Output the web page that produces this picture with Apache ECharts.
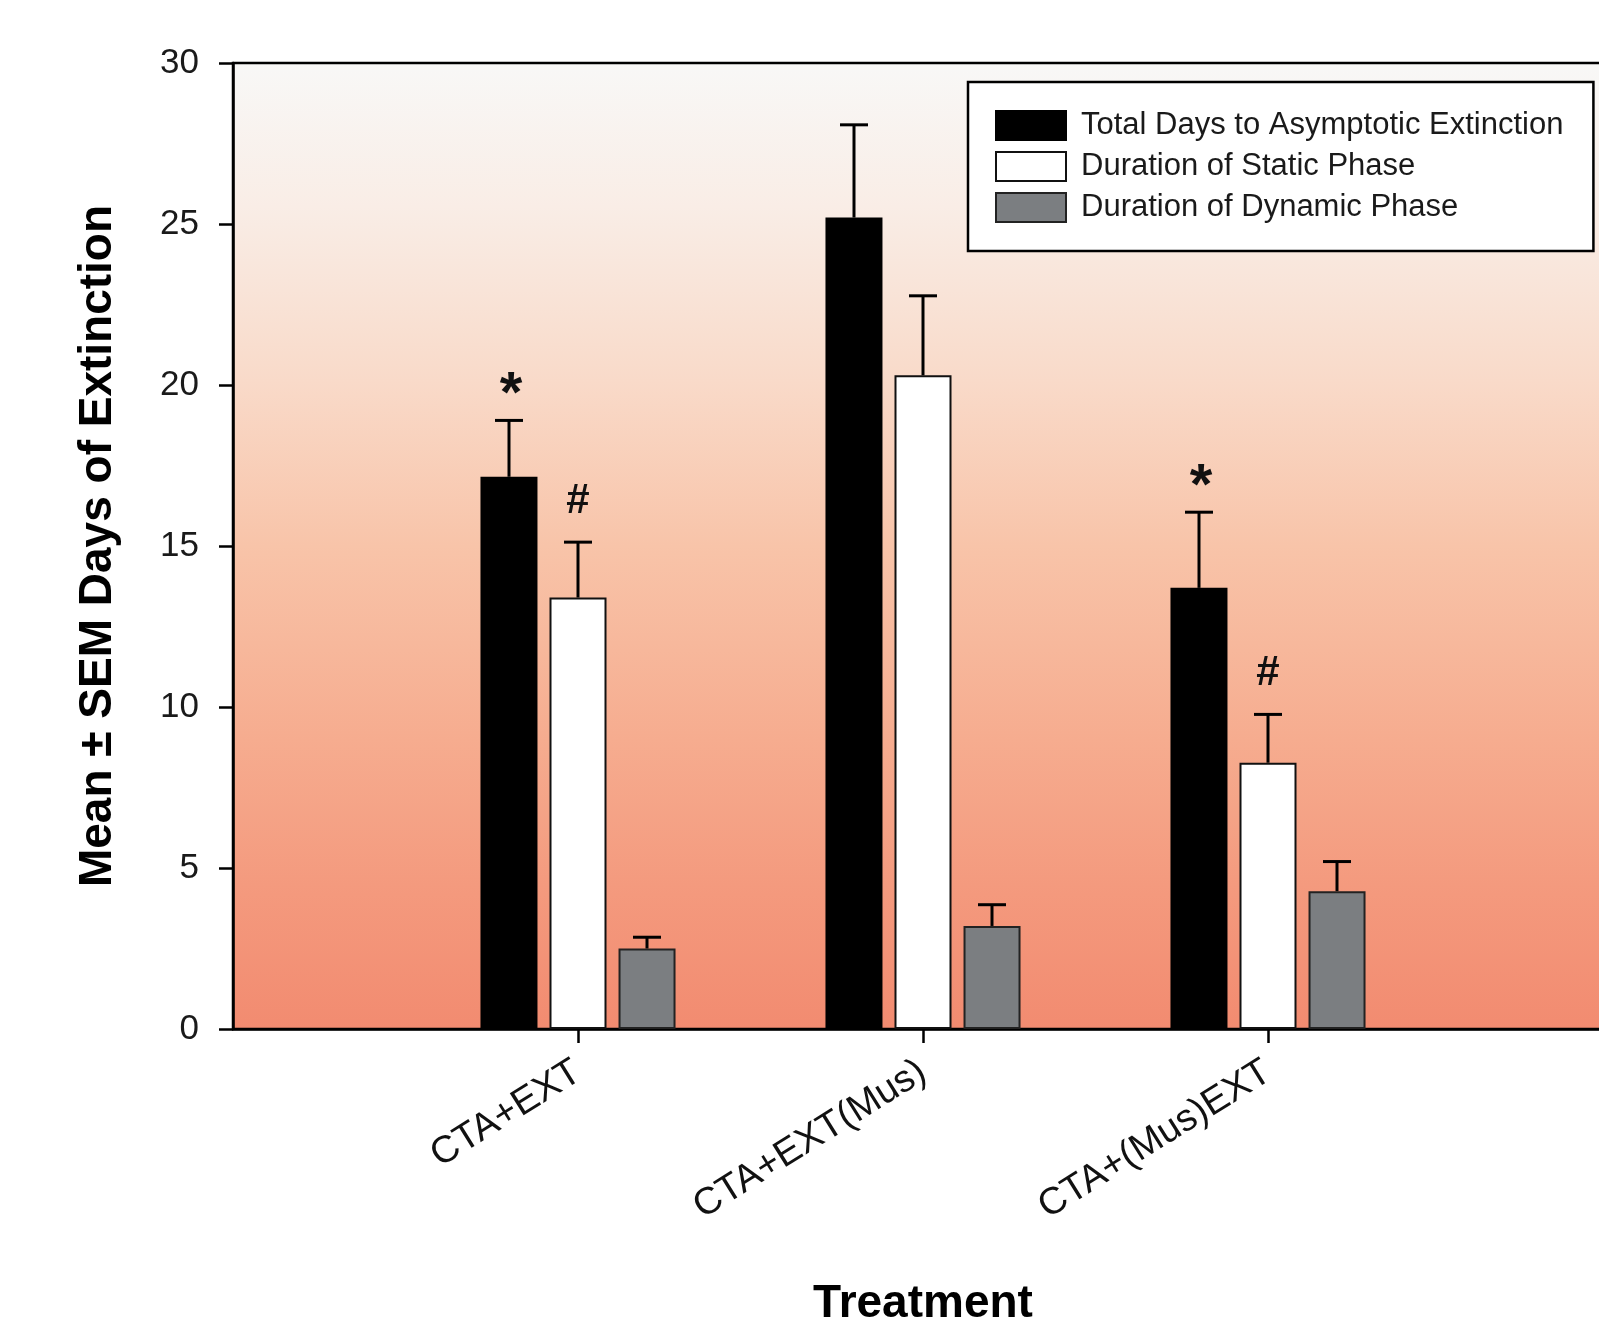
<!DOCTYPE html>
<html>
<head>
<meta charset="utf-8">
<script src="https://cdn.jsdelivr.net/npm/echarts@6/dist/echarts.min.js"></script>
<style>
html,body{margin:0;padding:0;background:#fff;}
#chart{width:1599px;height:1329px;}
</style>
</head>
<body>
<div id="chart"></div>
<script>
// ---- data ----
const categories = ['CTA+EXT', 'CTA+EXT(Mus)', 'CTA+(Mus)EXT'];
const seriesNames = ['Total Days to Asymptotic Extinction', 'Duration of Static Phase', 'Duration of Dynamic Phase'];
const totalMean = [17.15, 25.2, 13.7];
const totalSem = [1.75, 2.88, 2.35];
const staticMean = [13.4, 20.3, 8.27];
const staticSem = [1.72, 2.47, 1.5];
const dynamicMean = [2.5, 3.2, 4.28];
const dynamicSem = [0.35, 0.66, 0.92];
const totalMarks = ['*', '', '*'];
const staticMarks = ['#', '', '#'];
const dynamicMarks = ['', '', ''];
const yMin = 0, yMax = 30, yStep = 5;

// ---- style ----
const FONT = "'Liberation Sans', Arial, sans-serif";
const BAR_W = 57, BAR_GAP = 12;
const colors = ['#000000', '#ffffff', '#7b7e81'];
const borderColors = ['#000000', '#111111', '#222222'];

const means = [totalMean, staticMean, dynamicMean];
const sems = [totalSem, staticSem, dynamicSem];
const marks = [totalMarks, staticMarks, dynamicMarks];

const axisCats = [''].concat(categories, ['']);
const pad = arr => [null].concat(arr, [null]);

const errData = [], errMarks = [];
means.forEach((m, s) => {
  m.forEach((v, i) => {
    errData.push([i + 1, v, sems[s][i], s]);
    errMarks.push(marks[s][i]);
  });
});

const chart = echarts.init(document.getElementById('chart'), null, {renderer: 'canvas'});

const barSeries = seriesNames.map((name, s) => ({
  name: name,
  type: 'bar',
  data: pad(means[s]),
  barWidth: BAR_W,
  barGap: (BAR_GAP / BAR_W * 100).toFixed(1) + '%',
  itemStyle: {color: colors[s], borderColor: borderColors[s], borderWidth: 2},
  emphasis: {disabled: true},
  z: 2
}));

const errSeries = {
  type: 'custom',
  data: errData,
  encode: {x: 0, y: 1},
  z: 3,
  silent: true,
  renderItem: function (params, api) {
    const x = api.value(0), mean = api.value(1), sem = api.value(2), s = api.value(3);
    const off = (s - 1) * (BAR_W + BAR_GAP);
    const base = api.coord([x, mean]);
    const top = api.coord([x, mean + sem]);
    const cx = base[0] + off;
    const children = [
      {type: 'line', shape: {x1: cx, y1: base[1], x2: cx, y2: top[1]}, style: {stroke: '#000', lineWidth: 3}},
      {type: 'line', shape: {x1: cx - 14, y1: top[1], x2: cx + 14, y2: top[1]}, style: {stroke: '#000', lineWidth: 3}}
    ];
    const mk = errMarks[params.dataIndex];
    if (mk) {
      const star = mk === '*';
      children.push({
        type: 'text',
        style: {
          text: mk, x: cx + (star ? 2 : 0), y: top[1] - (star ? 24 : 41),
          fill: '#111', font: (star ? 'bold 58px ' : 'bold 42px ') + FONT,
          textAlign: 'center', textVerticalAlign: 'middle'
        }
      });
    }
    return {type: 'group', children: children};
  }
};

chart.setOption({
  animation: false,
  backgroundColor: '#ffffff',
  textStyle: {fontFamily: FONT},
  grid: {
    left: 233, top: 63, bottom: 300, width: 1380,
    outerBoundsMode: 'none',
    containLabel: false,
    show: true,
    borderColor: '#000', borderWidth: 2.5,
    backgroundColor: new echarts.graphic.LinearGradient(0, 0, 0, 1, [
      {offset: 0, color: '#f8f8f7'},
      {offset: 0.15, color: '#f9ede6'},
      {offset: 0.33, color: '#f9dac9'},
      {offset: 0.5, color: '#f8c4a9'},
      {offset: 0.7, color: '#f6ac8f'},
      {offset: 0.85, color: '#f49a7e'},
      {offset: 1, color: '#f28b70'}
    ])
  },
  legend: {
    data: seriesNames,
    orient: 'vertical',
    left: 968, top: 82,
    padding: [28, 30, 28, 27],
    itemWidth: 70, itemHeight: 29, itemGap: 10,
    backgroundColor: '#ffffff',
    borderColor: '#000', borderWidth: 2.5,
    selectedMode: false,
    icon: 'rect',
    textStyle: {fontSize: 31, lineHeight: 30, color: '#1a1a1a', fontFamily: FONT, padding: [0, 0, 0, 10]}
  },
  xAxis: {
    type: 'category',
    data: axisCats,
    boundaryGap: false,
    name: 'Treatment',
    nameLocation: 'middle',
    nameGap: 252,
    nameTextStyle: {fontSize: 46, fontWeight: 'bold', color: '#000', fontFamily: FONT},
    axisLine: {lineStyle: {color: '#000', width: 2.5}},
    axisTick: {show: true, length: 14, lineStyle: {color: '#000', width: 2.5},
      interval: function (idx, val) { return val !== ''; }},
    axisLabel: {rotate: 32, margin: 40, fontSize: 38, color: '#111', fontFamily: FONT,
      interval: function (idx, val) { return val !== ''; }},
    splitLine: {show: false}
  },
  yAxis: {
    type: 'value',
    min: yMin, max: yMax, interval: yStep,
    name: 'Mean ± SEM Days of Extinction',
    nameLocation: 'middle',
    nameGap: 112,
    nameTextStyle: {fontSize: 46, fontWeight: 'bold', color: '#000', fontFamily: FONT},
    axisLine: {show: true, lineStyle: {color: '#000', width: 2.5}},
    axisTick: {show: true, length: 14, lineStyle: {color: '#000', width: 2.5}},
    axisLabel: {fontSize: 35, margin: 34, color: '#1a1a1a', fontFamily: FONT},
    splitLine: {show: false}
  },
  series: barSeries.concat([errSeries])
});
</script>
</body>
</html>
